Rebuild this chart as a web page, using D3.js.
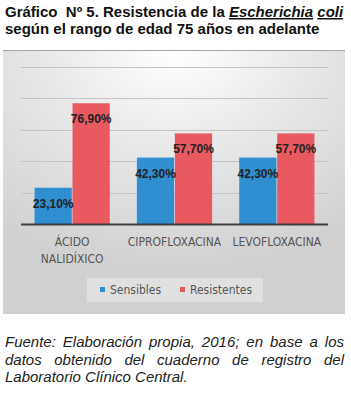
<!DOCTYPE html>
<html>
<head>
<meta charset="utf-8">
<script src="https://cdn.jsdelivr.net/npm/d3@7"></script>
<style>
  html, body { margin: 0; padding: 0; background: #fff; }
  svg { display: block; }
</style>
</head>
<body>
<div id="chart"></div>
<script>
const categories = ["ÁCIDO NALIDÍXICO", "CIPROFLOXACINA", "LEVOFLOXACINA"];
const seriesNames = ["Sensibles", "Resistentes"];
const sensibles = [23.1, 42.3, 42.3];
const resistentes = [76.9, 57.7, 57.7];
const yTicks = [20, 40, 60, 80, 100];

const BLUE = "#2f8fd0";
const RED = "#e85a60";
const W = 351, H = 395;
const SANS = "'Liberation Sans', Arial, sans-serif";
const NARROW = "'Liberation Sans Narrow', 'DejaVu Sans Condensed', sans-serif";

const svg = d3.select("#chart").append("svg")
    .attr("width", W)
    .attr("height", H);

// title
const title = svg.append("text")
    .attr("font-family", SANS)
    .attr("font-weight", "bold")
    .attr("font-size", 15)
    .attr("fill", "#111")
    .style("white-space", "pre");
const t1 = title.append("tspan").attr("x", 5).attr("y", 17);
t1.append("tspan").text("Gráfico  Nº 5. Resistencia de la ");
t1.append("tspan").attr("font-style", "italic").attr("text-decoration", "underline").text("Escherichia");
t1.append("tspan").text(" ");
t1.append("tspan").attr("font-style", "italic").attr("text-decoration", "underline").text("coli");
title.append("tspan").attr("x", 5).attr("y", 34).text("según el rango de edad 75 años en adelante");

// keep the first title line inside the page
const firstW = t1.node().getComputedTextLength();
if (firstW > 340) title.attr("font-size", 15 * 340 / firstW);

// chart box background
const defs = svg.append("defs");
const grad = defs.append("radialGradient")
    .attr("id", "bg")
    .attr("cx", "50%").attr("cy", "0%").attr("r", "85%")
    .attr("fx", "50%").attr("fy", "0%");
grad.append("stop").attr("offset", "0%").attr("stop-color", "#ffffff");
grad.append("stop").attr("offset", "45%").attr("stop-color", "#e8e8e8");
grad.append("stop").attr("offset", "100%").attr("stop-color", "#d0d0d0");

svg.append("rect")
    .attr("x", 3).attr("y", 50).attr("width", 342).attr("height", 264)
    .attr("fill", "url(#bg)");
svg.append("line")
    .attr("x1", 3).attr("x2", 345).attr("y1", 50.5).attr("y2", 50.5)
    .attr("stroke", "#a4a4ac");

const y = d3.scaleLinear().domain([0, 100]).range([224, 67]);
const x0 = d3.scaleBand().domain(categories).range([21, 328]).paddingInner(0.25).paddingOuter(0.125);
const x1 = d3.scaleBand().domain(seriesNames).range([0, x0.bandwidth()]).padding(0.02);

// gridlines
svg.append("g").selectAll("line")
    .data(yTicks)
    .join("line")
    .attr("x1", 21).attr("x2", 328)
    .attr("y1", d => Math.round(y(d)) + 0.5)
    .attr("y2", d => Math.round(y(d)) + 0.5)
    .attr("stroke", "#c4c4c4");

const rows = categories.map((c, i) => ({ cat: c, values: [sensibles[i], resistentes[i]] }));
const color = d3.scaleOrdinal().domain(seriesNames).range([BLUE, RED]);

const groups = svg.append("g").selectAll("g")
    .data(rows)
    .join("g")
    .attr("transform", d => `translate(${x0(d.cat)},0)`);

groups.selectAll("rect")
    .data(d => d.values.map((v, j) => ({ key: seriesNames[j], v })))
    .join("rect")
    .attr("x", d => x1(d.key))
    .attr("width", x1.bandwidth())
    .attr("y", d => y(d.v))
    .attr("height", d => y(0) - y(d.v))
    .attr("fill", d => color(d.key));

groups.selectAll("text")
    .data(d => d.values.map((v, j) => ({ key: seriesNames[j], v })))
    .join("text")
    .attr("x", d => x1(d.key) + x1.bandwidth() / 2)
    .attr("y", d => y(d.v) + 20)
    .attr("text-anchor", "middle")
    .attr("font-family", SANS)
    .attr("font-weight", "bold")
    .attr("font-size", 12)
    .attr("fill", "#222")
    .text(d => d.v.toFixed(2).replace(".", ",") + "%");

// baseline
svg.append("line")
    .attr("x1", 21).attr("x2", 328)
    .attr("y1", 224.5).attr("y2", 224.5)
    .attr("stroke", "#3c3c44")
    .attr("stroke-width", 2);

// category labels
const catLabels = svg.append("g")
    .attr("font-family", NARROW)
    .attr("font-size", 12)
    .attr("fill", "#555")
    .attr("text-anchor", "middle");
catLabels.selectAll("text")
    .data(categories)
    .join("text")
    .attr("x", d => x0(d) + x0.bandwidth() / 2)
    .attr("y", 246)
    .each(function(d) {
        const words = d.split(" ");
        const t = d3.select(this);
        words.forEach((w, i) => {
            t.append("tspan")
                .attr("x", x0(d) + x0.bandwidth() / 2)
                .attr("dy", i === 0 ? 0 : 17)
                .text(w);
        });
    });

// legend
svg.append("rect")
    .attr("x", 87).attr("y", 278).attr("width", 176).attr("height", 24)
    .attr("fill", "#ffffff").attr("fill-opacity", 0.35);
const legend = svg.append("g").selectAll("g")
    .data(seriesNames)
    .join("g")
    .attr("transform", (d, i) => `translate(${i === 0 ? 100 : 180},287)`);
legend.append("rect")
    .attr("width", 5).attr("height", 5)
    .attr("fill", d => color(d));
legend.append("text")
    .attr("x", 10).attr("y", 7)
    .attr("font-family", NARROW)
    .attr("font-size", 12)
    .attr("fill", "#555")
    .text(d => d);

// source note, justified with word spacing
const note = [
    "Fuente: Elaboración propia, 2016; en base a los",
    "datos obtenido del cuaderno de registro del",
    "Laboratorio Clínico Central."
];
const NOTE_W = 339;
svg.append("g").selectAll("text")
    .data(note)
    .join("text")
    .attr("x", 5)
    .attr("y", (d, i) => 347 + i * 17.5)
    .attr("font-family", SANS)
    .attr("font-style", "italic")
    .attr("font-size", 15)
    .attr("fill", "#222")
    .text(d => d)
    .each(function(d, i) {
        if (i < note.length - 1) {
            const gaps = d.split(" ").length - 1;
            const extra = (NOTE_W - this.getComputedTextLength()) / gaps;
            d3.select(this).attr("word-spacing", extra);
        }
    });
</script>
</body>
</html>
